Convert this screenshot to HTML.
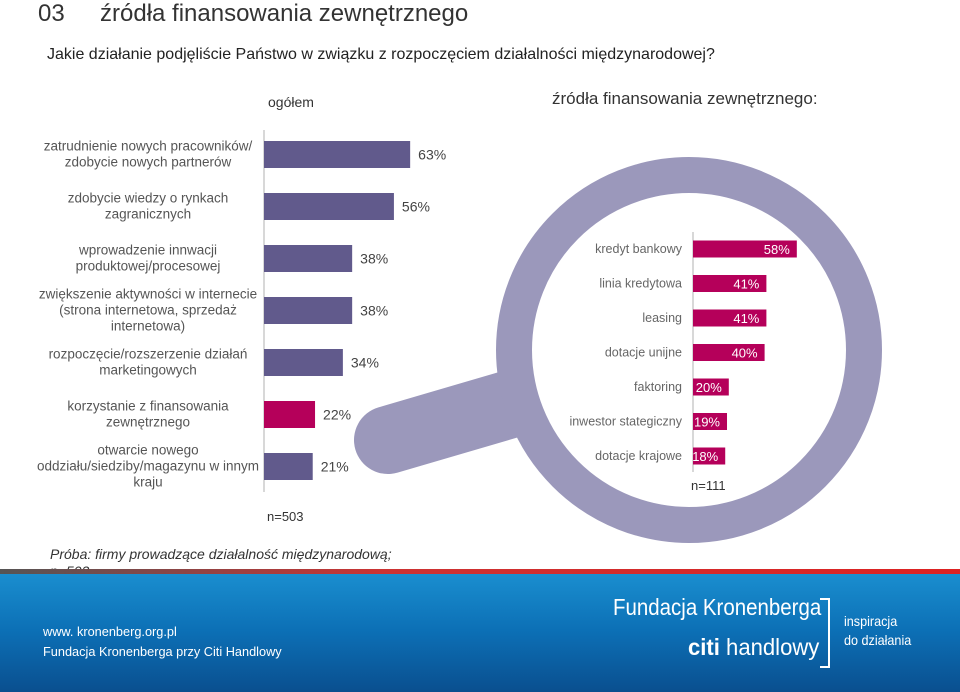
<!DOCTYPE html>
<html><head><meta charset="utf-8"><style>
body{margin:0;width:960px;height:692px;overflow:hidden;background:#fff;font-family:"Liberation Sans",sans-serif;position:relative}
.t{position:absolute;white-space:nowrap}
.c{transform-origin:0 0}
</style></head><body>
<div class="t" style="left:38px;top:0px;font-size:24px;color:#333">03</div>
<div class="t" style="left:100px;top:0px;font-size:24px;color:#333">źródła finansowania zewnętrznego</div>
<div class="t" style="left:47px;top:46px;font-size:16px;color:#222">Jakie działanie podjęliście Państwo w związku z rozpoczęciem działalności międzynarodowej?</div>
<div class="t" style="left:268px;top:94px;font-size:14px;color:#333">ogółem</div>
<div class="t" style="left:552px;top:89px;font-size:17px;color:#333">źródła finansowania zewnętrznego:</div>
<svg id="chart" width="960" height="692" style="position:absolute;left:0;top:0"></svg>
<div class="t" style="left:50px;top:546px;font-size:14px;font-style:italic;color:#333;line-height:17px">Próba: firmy prowadzące działalność międzynarodową;<br>n=503</div>
<div style="position:absolute;left:0;top:572px;width:960px;height:120px;background:linear-gradient(180deg,#1a8fd0 0%,#0c6fb5 50%,#0a4f8f 100%)"></div>
<div style="position:absolute;left:0;top:569px;width:960px;height:5px;background:linear-gradient(90deg,#555 0%,#c33 40%,#d22 100%)"></div>
<div class="t c" style="left:43px;top:624px;font-size:13px;color:#fff;transform:scaleX(0.98)">www. kronenberg.org.pl</div>
<div class="t c" style="left:43px;top:644px;font-size:13px;color:#fff;transform:scaleX(0.98)">Fundacja Kronenberga przy Citi Handlowy</div>
<div class="t c" style="left:613px;top:594px;font-size:23px;color:#fff;transform:scaleX(0.89)">Fundacja Kronenberga</div>
<div class="t c" style="left:688px;top:634px;font-size:23px;color:#fff;transform:scaleX(0.96)"><b>citi</b> handlowy</div>
<div style="position:absolute;left:820px;top:598px;width:8px;height:66px;border:2px solid #fff;border-left:none"></div>
<div class="t c" style="left:844px;top:612px;font-size:14px;color:#fff;line-height:19px;transform:scaleX(0.9)">inspiracja<br>do działania</div>
<script>
const leftCats=["zatrudnienie nowych pracowników/|zdobycie nowych partnerów","zdobycie wiedzy o rynkach|zagranicznych","wprowadzenie innwacji|produktowej/procesowej","zwiększenie aktywności w internecie|(strona internetowa, sprzedaż|internetowa)","rozpoczęcie/rozszerzenie działań|marketingowych","korzystanie z finansowania|zewnętrznego","otwarcie nowego|oddziału/siedziby/magazynu w innym|kraju"];
const leftVals=[63,56,38,38,34,22,21];
const leftHighlight=[false,false,false,false,false,true,false];
const rightCats=["kredyt bankowy","linia kredytowa","leasing","dotacje unijne","faktoring","inwestor stategiczny","dotacje krajowe"];
const rightVals=[58,41,41,40,20,19,18];
const NS="http://www.w3.org/2000/svg";
const svg=document.getElementById('chart');
function mk(tag,a,parent){const e=document.createElementNS(NS,tag);for(const k in a)e.setAttribute(k,a[k]);(parent||svg).appendChild(e);return e;}
const h=mk('line',{x1:388,y1:440,x2:620,y2:372,stroke:'#9b98bb','stroke-width':68,'stroke-linecap':'round'});


const ring=mk('circle',{cx:689,cy:350,r:175,fill:'#fff',stroke:'#9b98bb','stroke-width':36});


const lx0=264,lscale=2.32,lrow0=154.5,lstep=52,lbh=27;
const lxf=v=>lx0+v*lscale, lyf=i=>lrow0+i*lstep;
const la=mk('line',{x1:lx0,y1:130,x2:lx0,y2:492,stroke:'#ccc','stroke-width':1.5});


leftVals.forEach((v,i)=>{
  const y=lyf(i);
  const r=mk('rect',{x:lx0,y:y-lbh/2,width:lxf(v)-lx0,height:lbh,fill:leftHighlight[i]?'#b5005a':'#615a8c'});
  
  
  const t=mk('text',{x:lxf(v)+8,y:y+5,'font-size':14,fill:'#444'});t.textContent=v+'%';
  
  
  const lines=leftCats[i].split('|');
  lines.forEach((s,j)=>{
    const c=mk('text',{x:148,y:y+4+(j-(lines.length-1)/2)*16,'font-size':13.5,fill:'#555','text-anchor':'middle'});c.textContent=s;
    
    
  });
});
const n1=mk('text',{x:267,y:521,'font-size':13,fill:'#333'});n1.textContent='n=503';


const rx0=693,rscale=1.79,rrow0=249,rstep=34.5,rbh=17;
const rxf=v=>rx0+v*rscale, ryf=i=>rrow0+i*rstep;
const ra=mk('line',{x1:rx0,y1:232,x2:rx0,y2:472,stroke:'#ccc','stroke-width':1.5});


rightVals.forEach((v,i)=>{
  const y=ryf(i);
  const r=mk('rect',{x:rx0,y:y-rbh/2,width:rxf(v)-rx0,height:rbh,fill:'#b5005a'});
  
  
  const t=mk('text',{x:rxf(v)-7,y:y+5,'font-size':13,fill:'#fff','text-anchor':'end'});t.textContent=v+'%';
  
  
  const c=mk('text',{x:682,y:y+4,'font-size':12.5,fill:'#666','text-anchor':'end'});c.textContent=rightCats[i];
  
  
});
const n2=mk('text',{x:691,y:490,'font-size':13,fill:'#333'});n2.textContent='n=111';


</script>
</body></html>
